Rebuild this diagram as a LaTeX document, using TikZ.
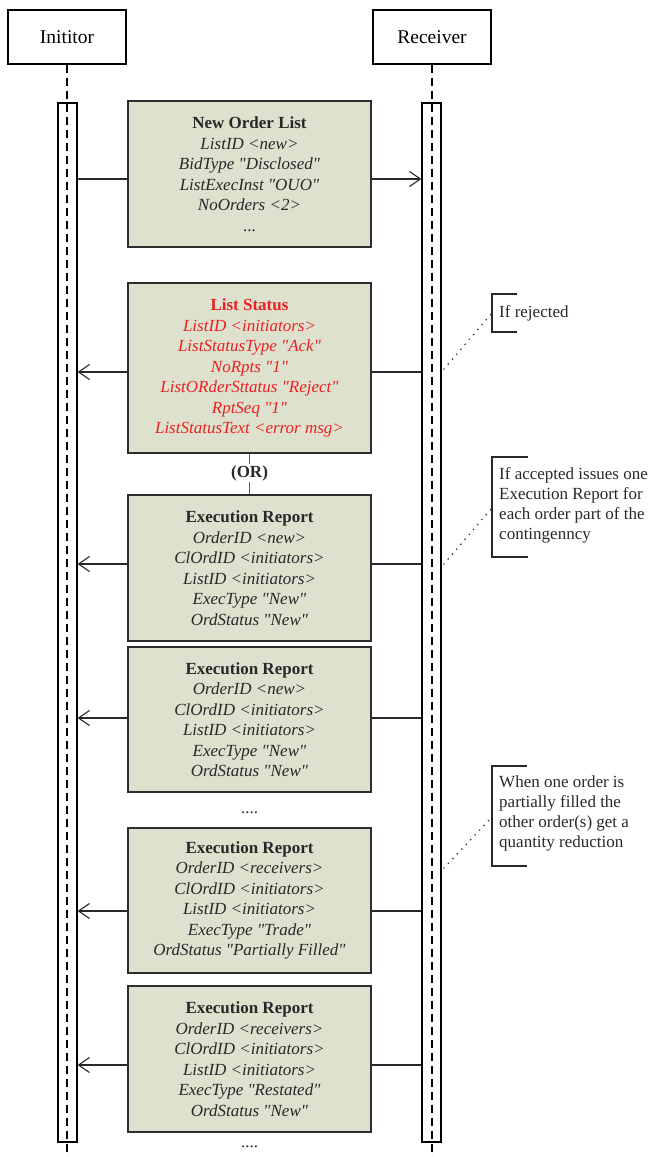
\documentclass[tikz,border=0pt]{standalone}
\usepackage{fontspec}
\setmainfont{Liberation Serif}
\usetikzlibrary{arrows.meta}

\definecolor{boxfill}{RGB}{221,225,205}
\definecolor{boxline}{RGB}{45,45,45}
\definecolor{errred}{RGB}{236,32,32}
\definecolor{txtgray}{RGB}{40,40,40}

% straight double quote glyph, set directly so no input mapping curls it
\newcommand{\sq}{\XeTeXglyph\XeTeXcharglyph"22\relax}
\newcommand{\qv}[1]{\sq#1\sq}

\begin{document}
\begin{tikzpicture}[x=1pt,y=-1pt,
  actor/.style={draw=black, line width=1.1pt, fill=white, minimum width=118pt,
    minimum height=54pt, inner sep=0pt, font=\fontsize{19.5}{23}\selectfont},
  lifeline/.style={line width=1.1pt, dash pattern=on 8pt off 5pt},
  actbar/.style={draw=black, line width=1.1pt, fill=white, minimum width=19pt,
    minimum height=1039pt, inner sep=0pt},
  msgbox/.style={draw=boxline, line width=1.3pt, fill=boxfill, minimum width=243pt,
    align=center, inner sep=0pt, text=txtgray, font=\fontsize{17}{20.5}\selectfont},
  msg/.style={line width=1.1pt, draw=txtgray,
    -{Straight Barb[length=11pt,width=15pt,line width=1.1pt]}},
  orline/.style={line width=1.6pt, draw=black!65},
  ellip/.style={font=\fontsize{17}{20}\selectfont, text=txtgray, inner sep=0pt},
  notetext/.style={align=left, anchor=west, inner sep=0pt, text=txtgray,
    font=\fontsize{17}{20}\selectfont},
  bracket/.style={line width=1.3pt, draw=txtgray},
  dotline/.style={line width=1.9pt, draw=black!75, line cap=round,
    dash pattern=on 0pt off 6.5pt}
]
\useasboundingbox (0,0) rectangle (652,1157);

% participants
\node[actor] (ini) at (67,37) {Inititor};
\node[actor] (rec) at (432,37) {Receiver};
\coordinate (iend) at (67,1157);
\coordinate (rend) at (432,1157);

% activation bars
\node[actbar] (ibar) at (67.5,622.5) {};
\node[actbar] (rbar) at (431.5,622.5) {};

% lifelines drawn over the bars
\draw[lifeline] (ini.south) -- (iend);
\draw[lifeline] (rec.south) -- (rend);

% message heights
\coordinate (m1) at (0,179);
\coordinate (m2) at (0,372);
\coordinate (m3) at (0,564);
\coordinate (m4) at (0,718);
\coordinate (m5) at (0,911);
\coordinate (m6) at (0,1065);

% message lines (boxes are drawn on top of them)
\draw[msg] (ibar.east |- m1) -- (rbar.west |- m1);
\draw[msg] (rbar.west |- m2) -- (ibar.east |- m2);
\draw[msg] (rbar.west |- m3) -- (ibar.east |- m3);
\draw[msg] (rbar.west |- m4) -- (ibar.east |- m4);
\draw[msg] (rbar.west |- m5) -- (ibar.east |- m5);
\draw[msg] (rbar.west |- m6) -- (ibar.east |- m6);

% message boxes
\node[msgbox, minimum height=146pt] (nol) at (249.5,174) {%
  \textbf{New Order List}\\
  \textit{ListID <new>}\\
  \textit{BidType \qv{Disclosed}}\\
  \textit{ListExecInst \qv{OUO}}\\
  \textit{NoOrders <2>}\\
  ...};

\node[msgbox, minimum height=170pt, text=errred] (ls) at (249.5,368) {%
  \textbf{List Status}\\
  \textit{ListID <initiators>}\\
  \textit{ListStatusType \qv{Ack}}\\
  \textit{NoRpts \qv{1}}\\
  \textit{ListORderSttatus \qv{Reject}}\\
  \textit{RptSeq \qv{1}}\\
  \textit{ListStatusText <error msg>}};

\node[msgbox, minimum height=146pt] (er1) at (249.5,568) {%
  \textbf{Execution Report}\\
  \textit{OrderID <new>}\\
  \textit{ClOrdID <initiators>}\\
  \textit{ListID <initiators>}\\
  \textit{ExecType \qv{New}}\\
  \textit{OrdStatus \qv{New}}};

\node[msgbox, minimum height=145pt] (er2) at (249.5,719.5) {%
  \textbf{Execution Report}\\
  \textit{OrderID <new>}\\
  \textit{ClOrdID <initiators>}\\
  \textit{ListID <initiators>}\\
  \textit{ExecType \qv{New}}\\
  \textit{OrdStatus \qv{New}}};

\node[msgbox, minimum height=145pt] (er3) at (249.5,900.5) {%
  \textbf{Execution Report}\\
  \textit{OrderID <receivers>}\\
  \textit{ClOrdID <initiators>}\\
  \textit{ListID <initiators>}\\
  \textit{ExecType \qv{Trade}}\\
  \textit{OrdStatus \qv{Partially Filled}}};

\node[msgbox, minimum height=146pt] (er4) at (249.5,1059) {%
  \textbf{Execution Report}\\
  \textit{OrderID <receivers>}\\
  \textit{ClOrdID <initiators>}\\
  \textit{ListID <initiators>}\\
  \textit{ExecType \qv{Restated}}\\
  \textit{OrdStatus \qv{New}}};

% alternative between reject and accept
\draw[orline] (ls.south) -- (er1.north);
\node[fill=white, inner sep=1.5pt, text=txtgray,
  font=\bfseries\fontsize{17}{20}\selectfont] (or) at (249.5,473) {(OR)};

% continuation marks
\node[ellip] (dots1) at (249.5,813) {....};
\node[ellip] (dots2) at (249.5,1147) {....};

% notes
\node[notetext] (n1) at (499,313) {If rejected};
\draw[bracket] (517,294) -- (492,294) -- (492,332) -- (517,332);
\coordinate (n1a) at (492,313);
\coordinate (n1b) at (444,369);
\draw[dotline] (n1b) -- (n1a);

\node[notetext] (n2) at (499,505) {If accepted issues one\\Execution Report for\\each order part of the\\contingenncy};
\draw[bracket] (528,457) -- (492,457) -- (492,557) -- (528,557);
\coordinate (n2a) at (491,509);
\coordinate (n2b) at (444,564);
\draw[dotline] (n2b) -- (n2a);

\node[notetext] (n3) at (499,813) {When one order is\\partially filled the\\other order(s) get a\\quantity reduction};
\draw[bracket] (527,766) -- (492,766) -- (492,866) -- (527,866);
\coordinate (n3a) at (491,818);
\coordinate (n3b) at (444,868);
\draw[dotline] (n3b) -- (n3a);
\end{tikzpicture}
\end{document}
